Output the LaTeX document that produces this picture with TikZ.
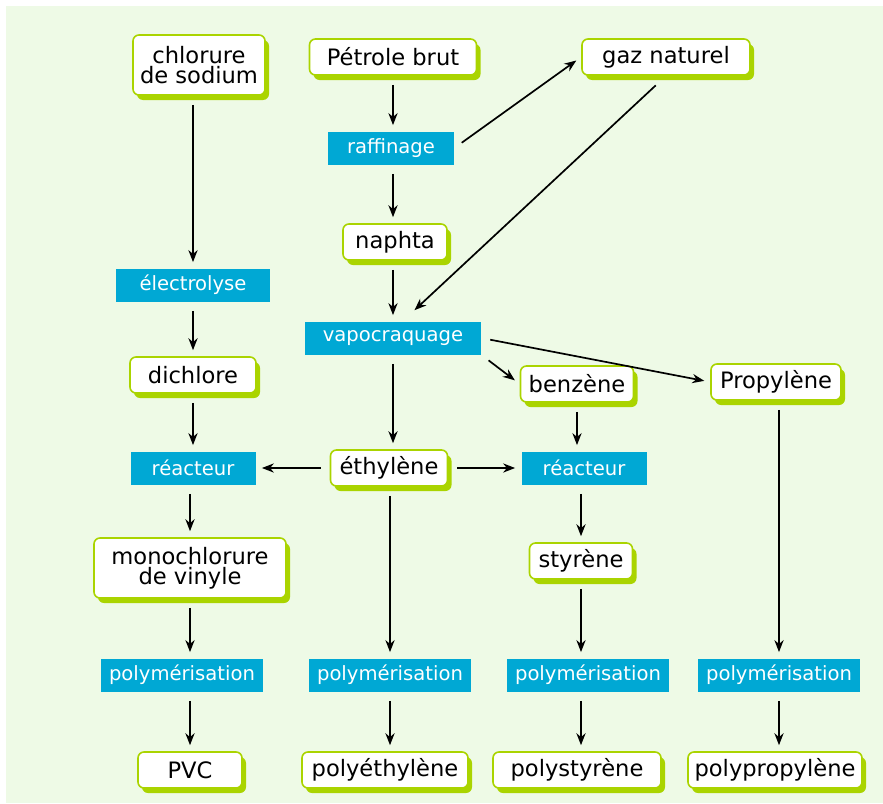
\documentclass[tikz,border=0pt]{standalone}
\usepackage{fontspec}
\setmainfont{DejaVu Sans}
\usetikzlibrary{shapes,arrows,arrows.meta,shadows,positioning}
\definecolor{limeG}{RGB}{170,212,0}
\definecolor{blueC}{RGB}{0,168,212}
\definecolor{bgG}{RGB}{238,250,230}

\begin{document}
\begin{tikzpicture}[
    x=0.5pt, y=-0.5pt,
    prod/.style={draw=limeG, line width=0.8pt, fill=white, rounded corners=3pt, minimum height=18pt, inner sep=1pt, align=center, font=\fontsize{11.3}{9.8}\selectfont, drop shadow={shadow xshift=2pt, shadow yshift=-2.5pt, fill=limeG, opacity=1}},
    proc/.style={fill=blueC, text=white, minimum height=16.5pt, inner sep=1pt, font=\fontsize{9.8}{11}\selectfont},
    arrow/.style={->, line width=0.85pt, >={Stealth[length=6pt,width=4.6pt]}, shorten <=4.5pt, shorten >=3pt}
]

% Background
\useasboundingbox (0,0) rectangle (883,803);
\fill[bgG] (6,6) rectangle (883,803);

% Raw materials
\node[prod, minimum width=66pt, minimum height=30pt] (sodium) at (199,65) {chlorure\\de sodium};
\node[prod, minimum width=83.5pt] (petrole) at (393,57) {Pétrole brut};
\node[prod, minimum width=84pt] (gaz) at (666,57) {gaz naturel};

% Refining and cracking
\node[proc, minimum width=63pt] (raff) at (391,148) {raffinage};
\node[prod, minimum width=52pt] (naphta) at (395,242) {naphta};
\node[proc, minimum width=88pt] (vapo) at (393,338) {vapocraquage};

% Left column
\node[proc, minimum width=77pt] (elec) at (193,285) {électrolyse};
\node[prod, minimum width=63pt] (dichlore) at (193,375) {dichlore};
\node[proc, minimum width=62.5pt] (reacL) at (193,468) {réacteur};
\node[prod, minimum width=96pt, minimum height=30pt] (mono) at (190,568) {monochlorure\\de vinyle};

% Intermediates
\node[prod, minimum width=56.5pt] (benz) at (577,384) {benzène};
\node[prod, minimum width=65pt] (prop) at (776,382) {Propylène};
\node[prod, minimum width=58.5pt] (ethyl) at (389,468) {éthylène};
\node[proc, minimum width=62.5pt] (reacR) at (584,468) {réacteur};
\node[prod, minimum width=51.5pt] (styr) at (581,561) {styrène};

% Polymerisation
\node[proc, minimum width=81pt] (polyL) at (182,675) {polymérisation};
\node[proc, minimum width=81pt] (polyE) at (390,675) {polymérisation};
\node[proc, minimum width=81pt] (polyS) at (588,675) {polymérisation};
\node[proc, minimum width=81pt] (polyP) at (779,675) {polymérisation};

% Plastics
\node[prod, minimum width=52pt] (pvc) at (190,770) {PVC};
\node[prod, minimum width=83pt] (pe) at (385,770) {polyéthylène};
\node[prod, minimum width=84pt] (ps) at (577,770) {polystyrène};
\node[prod, minimum width=87pt] (pp) at (775,770) {polypropylène};

% Arrows
\draw[arrow] (elec |- sodium.south) -- (elec);
\draw[arrow] (elec) -- (dichlore);
\draw[arrow] (dichlore) -- (reacL);
\draw[arrow] (mono |- reacL.south) -- (mono);
\draw[arrow] (mono) -- (mono |- polyL.north);
\draw[arrow] (pvc |- polyL.south) -- (pvc);

\draw[arrow] (petrole) -- (petrole |- raff.north);
\draw[arrow] (petrole |- raff.south) -- (petrole |- naphta.north);
\draw[arrow] (vapo |- naphta.south) -- (vapo);
\draw[arrow] (raff.east) -- (gaz.west);
\draw[arrow, shorten <=7pt, shorten >=8pt] (gaz.south) -- (vapo.60);
\draw[arrow] (vapo.south east) -- (benz.west);
\draw[arrow] (vapo.east) -- (prop.west);
\draw[arrow] (vapo) -- (vapo |- ethyl.north);

\draw[arrow] (ethyl.west) -- (reacL.east);
\draw[arrow] (ethyl.east) -- (reacR.west);
\draw[arrow] (polyE |- ethyl.south) -- (polyE);
\draw[arrow] (polyE) -- (polyE |- pe.north);

\draw[arrow] (benz) -- (benz |- reacR.north);
\draw[arrow] (styr |- reacR.south) -- (styr);
\draw[arrow] (styr) -- (styr |- polyS.north);
\draw[arrow] (styr |- polyS.south) -- (styr |- ps.north);

\draw[arrow] (polyP |- prop.south) -- (polyP);
\draw[arrow] (polyP) -- (polyP |- pp.north);

\end{tikzpicture}
\end{document}
